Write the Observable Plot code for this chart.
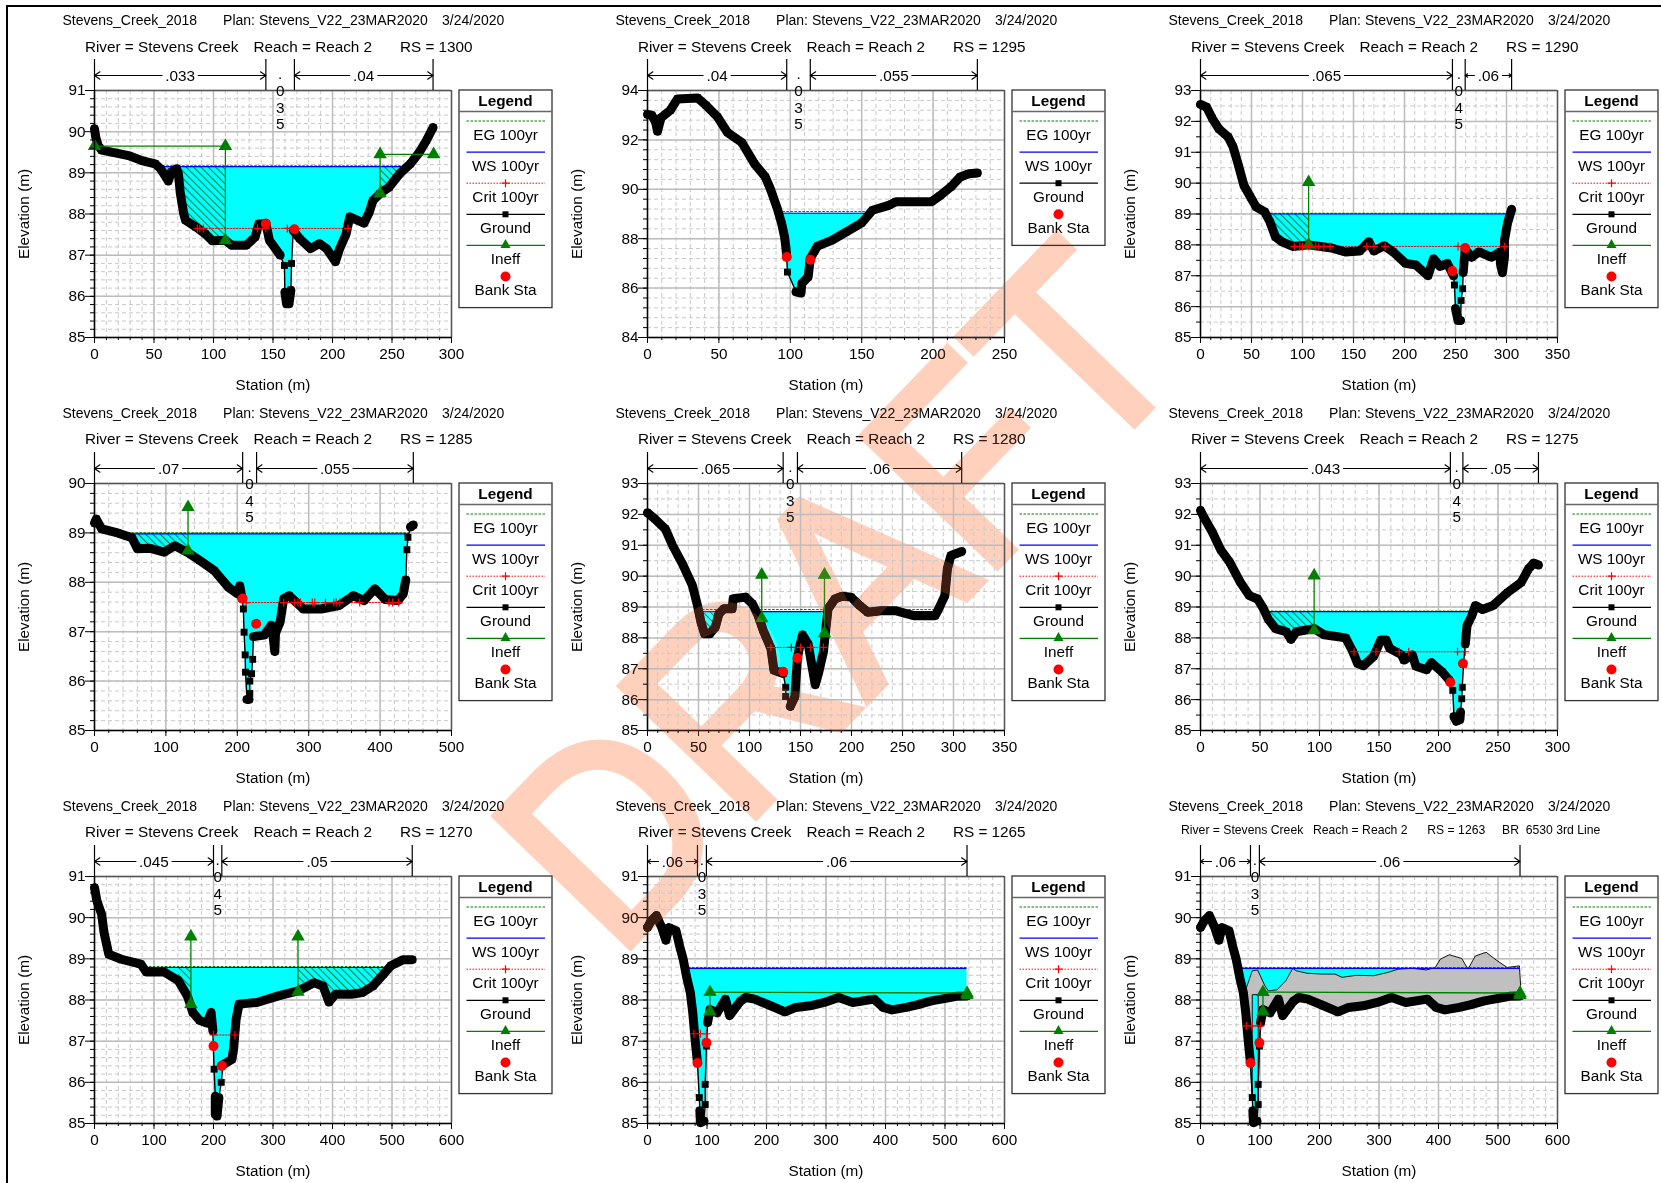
<!DOCTYPE html>
<html><head><meta charset="utf-8">
<script src="https://cdn.jsdelivr.net/npm/d3@7"></script>
<script src="https://cdn.jsdelivr.net/npm/@observablehq/plot@0.6"></script>
<style>
html,body{margin:0;padding:0;background:#fff;width:1661px;height:1183px;overflow:hidden}
#page{position:relative;width:1661px;height:1183px}
.panel{position:absolute}
.layer{position:absolute;left:0;top:0;pointer-events:none}
#edge{position:absolute;left:6px;top:5px;right:0;bottom:0;border-left:2.5px solid #000;border-top:2.5px solid #000}
</style></head>
<body>
<div id="page">
<svg width="0" height="0" style="position:absolute"><defs>
<pattern id="hatch" width="5.2" height="5.2" patternUnits="userSpaceOnUse" patternTransform="rotate(-45)">
<rect width="5.2" height="5.2" fill="#00ffff"></rect><rect width="1" height="5.2" fill="#007a3a"></rect>
</pattern>
<text id="draftText" font-family="'Liberation Sans',Arial,sans-serif" font-size="272" stroke-width="8" stroke-linejoin="miter">DRAFT</text>
</defs></svg>
<svg class="layer" width="1661" height="1183"><use href="#draftText" fill="#ffd0bc" stroke="#ffd0bc" transform="translate(616,961) rotate(-46) scale(.92,1)"></use></svg>
<div id="edge"></div>
<div id="charts"></div>
<svg class="layer" width="1661" height="1183" style="mix-blend-mode:lighten"><use href="#draftText" fill="#3c1c10" stroke="#3c1c10" transform="translate(616,961) rotate(-46) scale(.92,1)"></use></svg>
</div>
<script>
const project = "Stevens_Creek_2018", plan = "Plan: Stevens_V22_23MAR2020", planDate = "3/24/2020";

const ground1300 = [[0,90.07],[1,89.87],[3,89.67],[6,89.55],[16.5,89.49],[28.5,89.42],[40.5,89.29],[51,89.22],[55.5,89.1],[60,88.9],[62,88.8],[64.5,89.02],[69,89.1],[70.5,88.98],[72,88.53],[75,88],[76.5,87.85],[85.5,87.68],[93,87.52],[99,87.35],[110,87.36],[115.5,87.24],[127.5,87.24],[135,87.44],[138,87.76],[144,87.77],[147,87.36],[156,87],[159.6,86.75],[160,86.1],[161.4,85.82],[163.5,85.82],[165,86.15],[165.6,86.8],[167,87.6],[172.5,87.4],[181.5,87.16],[189,87.28],[195,87.16],[202.5,86.84],[205.5,87.12],[211.5,87.52],[214.5,87.93],[226.5,87.78],[231,88.05],[234,88.33],[240,88.5],[247.5,88.65],[256.5,88.98],[265.5,89.22],[273,89.5],[279,89.79],[284.5,90.1]];
const ground1295 = [[0,93.03],[3,93],[5.8,92.7],[7,92.35],[9.5,92.9],[16,93.2],[21,93.66],[35,93.7],[41,93.4],[49,92.93],[56,92.3],[66,91.9],[75,91.03],[82.5,90.5],[86,90.02],[88,89.7],[91,89.2],[94,88.6],[96,88.07],[97,87.6],[97.5,87.26],[98,86.65],[104,85.85],[107.5,85.8],[108,86.18],[112.5,86.45],[114,87.2],[119,87.7],[129,87.93],[139,88.27],[150,88.64],[157.5,89.15],[169,89.35],[174,89.5],[189,89.5],[199,89.5],[205,89.75],[212.5,90.1],[219,90.5],[225,90.63],[231,90.66]];
const ground1290 = [[0,92.55],[6,92.46],[11.5,92.1],[18,91.76],[27,91.5],[32,91.17],[37,90.6],[42.5,89.93],[49,89.55],[54.5,89.23],[63,89.07],[68,88.75],[73.5,88.26],[80,88.1],[90.5,87.95],[106,88],[128.5,87.9],[142,87.77],[156,87.8],[165,88.1],[170,87.8],[180,87.97],[189,87.77],[201,87.4],[211,87.35],[223,87],[228.5,87.55],[235,87.3],[242,87.4],[248,87],[249,86.7],[250,85.94],[252.5,85.55],[255,85.55],[255.5,86.2],[257,86.58],[257.5,87.1],[259.5,87.85],[266,87.6],[273,87.77],[285,87.6],[294,87.77],[294,87.4],[296,87.1],[298,87.6],[298,88.15],[301,88.7],[305,89.15]];
const ground1285 = [[0,89.2],[2.5,89.28],[10,89.08],[32.5,89],[52.5,88.9],[60,88.68],[77.5,88.69],[97.5,88.61],[112.5,88.74],[130,88.61],[147.5,88.44],[167.5,88.24],[187.5,87.9],[200,87.77],[203.5,87.93],[206.5,87.67],[208.5,87.46],[209.5,86.99],[211,86.53],[211.5,86.18],[213.5,85.63],[216.5,85.63],[217.5,85.75],[217.5,86],[220,86.15],[221.5,86.44],[222.5,86.9],[237.5,86.93],[247.5,87.13],[251,86.8],[252.5,86.6],[253.5,86.97],[260,87.2],[265,87.67],[272.5,87.73],[292.5,87.46],[317.5,87.46],[342.5,87.53],[362.5,87.73],[377.5,87.63],[392.5,87.87],[407.5,87.65],[425,87.63],[432.5,87.77],[436,88.05],[437.5,88.66],[439,88.91],[442.5,89.12],[446.5,89.16]];
const ground1280 = [[0,92.05],[7,91.86],[17.5,91.53],[24.5,91],[35,90.35],[44,89.7],[49,89.05],[52.5,88.5],[56,88.13],[61,88.13],[66.5,88.35],[70,88.78],[75,88.94],[83,88.94],[84,89.27],[96,89.32],[103,89.1],[108.5,88.72],[113.5,88.24],[121,87.66],[124,86.95],[133,86.85],[135.5,86.4],[135.5,86.1],[140,85.78],[144.5,86.1],[145,86.35],[147,87.35],[149.5,87.77],[152,88.1],[157.5,87.8],[161,87.13],[164.5,86.48],[168,86.9],[172.5,87.55],[175,88.35],[177,88.94],[184,89.27],[191,89.35],[199.5,89.32],[208,89.05],[216,88.83],[229,88.88],[243,88.88],[261,88.72],[282,88.72],[285.5,88.94],[291.5,89.37],[294,90.24],[297.5,90.67],[308,90.8]];
const ground1275 = [[0,92.13],[2.5,91.93],[10,91.42],[17,90.85],[24.5,90.45],[33.5,89.8],[41,89.37],[48,89.26],[53,88.94],[57,88.6],[63,88.3],[72,88.2],[76,87.95],[80.5,88.2],[95.5,88.3],[104,88.1],[122,88],[128,87.55],[132,87.17],[137,87.1],[145.5,87.4],[151.5,87.93],[156,87.93],[159,87.66],[169,87.45],[171,87.28],[178,87.45],[181,87.08],[190,86.97],[194,87.2],[203,86.9],[209,86.63],[212,86.3],[213,85.45],[215,85.3],[218,85.35],[218.5,85.6],[219.5,86.03],[220,86.4],[221,87.15],[222.5,87.8],[224,88.4],[228,88.72],[231,89.05],[237,88.92],[246,89.05],[258,89.47],[269.5,89.8],[275.5,90.23],[280,90.42],[284,90.36]];
const ground1270 = [[0,90.73],[4,90.41],[12,90.08],[16,89.64],[24,89.11],[45,88.99],[78,88.87],[87,88.68],[117,88.68],[141,88.47],[156,88.1],[162,87.85],[165,87.7],[177,87.5],[189,87.44],[196,87.7],[199,87.25],[201,86.32],[203,85.66],[203,85.22],[206,85.18],[209,85.63],[213,86],[216,86.43],[231,86.56],[234,86.84],[236,87.2],[238,87.53],[243,87.9],[273,87.94],[309,88.1],[342,88.22],[369,88.42],[384,88.34],[394,87.95],[405,88.14],[432,88.14],[450,88.18],[468,88.34],[486,88.63],[498,88.83],[519,88.98],[534,88.98]];
const ground1265 = [[0,89.76],[6,89.92],[15,90.05],[24,89.76],[31,89.45],[36,89.76],[48,89.68],[54,89.31],[60,88.99],[66,88.54],[72,88.18],[76,87.7],[80,87.04],[84,86.47],[87,85.63],[88,85.31],[89,85.02],[95,85.06],[97,85.46],[97,85.95],[99,86.88],[101,87.45],[105,87.77],[117,87.69],[131,88.02],[138,87.62],[156,87.97],[165,88.06],[180,88.02],[207,87.86],[231,87.71],[249,87.82],[273,87.86],[297,87.94],[321,88.06],[345,87.94],[381,88.02],[396,87.82],[411,87.76],[435,87.82],[453,87.88],[477,87.98],[501,88.04],[519,88.09],[537,88.1]];
const deckTop1263 = [[76,88.25],[87,88.71],[96,88.73],[108,88.35],[114,88.22],[129,88.25],[143.5,88.47],[155,88.77],[161,88.71],[179,88.65],[203,88.63],[226,88.63],[238,88.55],[262,88.6],[291,88.59],[315,88.67],[332.5,88.75],[356,88.77],[380,88.73],[394.5,88.79],[403,88.99],[418,89.1],[439,89.01],[449.5,88.75],[462,89.07],[480,89.16],[498,88.96],[515.5,88.79],[536,88.83],[538,88.35],[538,88.09]];
const deckOpening1263 = [[97,88.13],[87,88.13]];

const panels = [
 {rs:"1300", xMax:300, xMajor:50, xMinor:10, yMin:85, yMax:91, yMajor:1, yMinor:.2, ground:ground1300, thin:[[159.5,159.7],[165.5,165.7]], ws:89.15, wsFrom:[[54,263]], eg:89.17, egFrom:[[54,263]], crit:87.65, critX:[86.5,88.5,91.5,137,144,162,213], banks:[[144,87.77],[168,87.63]], ineff:[[[0,89.65],[110,89.65],[110,87.36]],[[285,89.45],[240,89.45],[240,88.5]]], hatch:[[70.5,110],[240,265]], reach:[0,144,168,284.5], n:[".033",".035",".04"]},
 {rs:"1295", xMax:250, xMajor:50, xMinor:10, yMin:84, yMax:94, yMajor:2, yMinor:.4, ground:ground1295, thin:[[97.7,100]], ws:89.03, wsFrom:[[92,157]], eg:89.1, egFrom:[[92,160]], crit:null, critX:[], banks:[[97.5,87.26],[114,87.15]], ineff:[], hatch:[], reach:[0,97.5,114,231], n:[".04",".035",".055"]},
 {rs:"1290", xMax:350, xMajor:50, xMinor:10, yMin:85, yMax:93, yMajor:1, yMinor:.5, ground:ground1290, thin:[[249,249.5],[255.5,257.2]], ws:89, wsFrom:[[65,300]], eg:89.02, egFrom:[[65,300]], crit:87.95, critX:[92,97.5,100,106,113,116,121,127,163,170,181,252.5,298], banks:[[247,87.15],[259.5,87.9]], ineff:[[[106,90.03],[106,88]]], hatch:[[66,106]], reach:[0,247,259.5,305], n:[".065",".045",".06"]},
 {rs:"1285", xMax:500, xMajor:100, xMinor:20, yMin:85, yMax:90, yMajor:1, yMinor:.2, ground:ground1285, thin:[[208,211.6],[217.4,222.4],[436.5,439]], ws:88.98, wsFrom:[[30,440]], eg:89, egFrom:[[30,440]], crit:87.59, critX:[212.5,265,280,285,288.5,305,308.5,323.5,335,338.5,343.5,371.5,412.5,417.5,426], banks:[[207.5,87.67],[226.5,87.16]], ineff:[[[131,89.52],[131,88.64]]], hatch:[[52.5,130]], reach:[0,207.5,227,446.5], n:[".07",".045",".055"]},
 {rs:"1280", xMax:350, xMajor:50, xMinor:10, yMin:85, yMax:93, yMajor:1, yMinor:.5, ground:ground1280, thin:[[135.4,135.6]], ws:88.85, wsFrom:[[50,74],[107,176],[217,287]], eg:88.92, egFrom:[[50,74],[107,176],[217,287]], crit:87.69, critX:[121,141,150,160,172.5], banks:[[133,86.9],[147,87.35]], ineff:[[[112,90.04],[112,88.63]],[[173.5,90.04],[173.5,88.15]]], hatch:[[49,75]], reach:[0,133,147,308], n:[".065",".035",".06"]},
 {rs:"1275", xMax:300, xMajor:50, xMinor:10, yMin:85, yMax:93, yMajor:1, yMinor:.5, ground:ground1275, thin:[[212,212.5],[219.5,222.4]], ws:88.85, wsFrom:[[53,229]], eg:88.87, egFrom:[[53,229]], crit:87.55, critX:[129,147.5,167,175,216,222.5], banks:[[210,86.56],[220.5,87.17]], ineff:[[[95.5,90.02],[95.5,88.24]]], hatch:[[57,95.5]], reach:[0,210,220.5,284], n:[".043",".045",".05"]},
 {rs:"1270", xMax:600, xMajor:100, xMinor:20, yMin:85, yMax:91, yMajor:1, yMinor:.2, ground:ground1270, thin:[[199.5,202.5],[210,215]], ws:88.79, wsFrom:[[72,497]], eg:88.81, egFrom:[[72,497]], crit:87.15, critX:[200,236], banks:[[200,86.88],[214,86.4]], ineff:[[[162,89.54],[162,87.9]],[[342,89.54],[342,88.2]]], hatch:[[130,162],[342,498]], reach:[0,200,214,534], n:[".045",".045",".05"]},
 {rs:"1265", xMax:600, xMajor:100, xMinor:20, yMin:85, yMax:91, yMajor:1, yMinor:.2, ground:ground1265, thin:[[85,87],[97,100]], ws:88.77, wsFrom:[[69,537]], eg:88.79, egFrom:[[69,537]], crit:87.18, critX:[78,89,99], banks:[[84,86.47],[99,86.96]], ineff:[[[105,87.72],[105,88.19],[537,88.17],[537,88.12]]], hatch:[], reach:[0,84,99,537], n:[".06",".035",".06"]},
 {rs:"1263", xMax:600, xMajor:100, xMinor:20, yMin:85, yMax:91, yMajor:1, yMinor:.2, ground:ground1265, thin:[[85,87],[97,100]], ws:88.77, wsFrom:[[69,537]], eg:88.79, egFrom:[[69,537]], crit:87.37, critX:[77,87,101], banks:[[84,86.47],[99,86.96]], ineff:[[[105,87.72],[105,88.19],[537,88.17],[537,88.12]]], hatch:[], reach:[0,84,99,537], n:[".06",".035",".06"], deck:true, bridge:"BR  6530 3rd Line"}
];

const frameX = [94, 647, 1199.7], frameY = [90, 483, 876];
const frameW = 357, frameH = 247, mL = 90, mR = 105, mT = 75, mB = 60;
const FONT = "'Liberation Sans',Arial,sans-serif", BIG = 15.3;
const steps = (a, b, s) => d3.range(0, Math.round((b - a) / s) + 1).map(i => +(a + i * s).toFixed(3));

function legendMark(hasAll) {
  return (index, scales, values, dims) => {
    const left = dims.width - dims.marginRight + 8, top = dims.marginTop;
    const items = hasAll ? ["EG 100yr","WS 100yr","Crit 100yr","Ground","Ineff","Bank Sta"] : ["EG 100yr","WS 100yr","Ground","Bank Sta"];
    const g = d3.create("svg:g").attr("transform", `translate(${left},${top})`).attr("font-family", FONT).attr("font-size", BIG);
    const boxH = 31 + 31.1 * items.length;
    g.append("rect").attr("width", 93).attr("height", boxH).attr("fill", "none").attr("stroke", "#333").attr("stroke-width", 1.3);
    g.append("line").attr("x1", 0).attr("x2", 93).attr("y1", 21.5).attr("y2", 21.5).attr("stroke", "#666").attr("stroke-width", 1.4);
    g.append("text").attr("x", 46.5).attr("y", 10.5).attr("dy", "0.35em").attr("text-anchor", "middle").attr("font-weight", "bold").text("Legend");
    items.forEach((name, i) => {
      const y = 31 + 31.1 * i;
      const ln = g.append("line").attr("x1", 7.5).attr("x2", 86).attr("y1", y).attr("y2", y);
      if (name === "EG 100yr") ln.attr("stroke", "#008000").attr("stroke-dasharray", "2.5 1.5");
      if (name === "WS 100yr") ln.attr("stroke", "#0000ff").attr("stroke-width", 1.2);
      if (name === "Crit 100yr") {
        ln.attr("stroke", "#ff0000").attr("stroke-dasharray", "1.5 1.5");
        g.append("path").attr("d", `M42.5 ${y}h8M46.5 ${y - 4}v8`).attr("stroke", "#ff0000").attr("stroke-width", 1.2);
      }
      if (name === "Ground") {
        ln.attr("stroke", "#000").attr("stroke-width", 1.2);
        g.append("rect").attr("x", 43.5).attr("y", y - 3).attr("width", 6).attr("height", 6);
      }
      if (name === "Ineff") {
        ln.attr("stroke", "#008000").attr("stroke-width", 1.2);
        g.append("path").attr("d", `M46.5 ${y - 6.5}l5 9h-10z`).attr("fill", "#008000");
      }
      if (name === "Bank Sta") {
        ln.remove();
        g.append("circle").attr("cx", 46.5).attr("cy", y).attr("r", 5).attr("fill", "#ff0000");
      }
      g.append("text").attr("x", 46.5).attr("y", y + 13.6).attr("dy", "0.35em").attr("text-anchor", "middle").text(name);
    });
    return g.node();
  };
}

function drawPanel(p, idx) {
  const col = idx % 3, row = Math.floor(idx / 3);
  const pts = p.ground.map(([x, y]) => ({x, y}));
  const isThin = d => p.thin.some(([a, b]) => d.x >= a && d.x <= b);
  const thick = pts.map(d => isThin(d) ? {x: d.x, y: null} : d);
  const wet = pts.map(d => ({x: d.x, lo: Math.min(d.y, p.ws), hi: p.ws}));
  const xPx = p.xMax / frameW;
  const links = [], labels = [];
  p.n.forEach((t, i) => {
    const a = p.reach[i], b = p.reach[i + 1], m = (a + b) / 2;
    if (i === 1) return;
    const half = (t.length * 4 + 2) * xPx;
    links.push({from: m - half, to: a}, {from: m + half, to: b});
    labels.push({x: m, t});
  });
  const ineffLines = p.ineff.flatMap((path, z) => path.map(([x, y]) => ({x, y, z})));
  const critPts = p.critX.map(x => ({x, y: p.crit}));
  const line2 = p.bridge
    ? [["River = Stevens Creek", -19.5], ["Reach = Reach 2", 112.5], ["RS = " + p.rs, 226.8], [p.bridge, 301.5]]
    : [["River = Stevens Creek", -9.6], ["Reach = Reach 2", 159], ["RS = " + p.rs, 305.4]];
  let deckPoly = null;
  if (p.deck) {
    const right = p.ground.filter(([x]) => x >= 97).reverse();
    const left = p.ground.filter(([x]) => x >= 76 && x <= 87).reverse();
    deckPoly = [...deckTop1263, ...right, ...deckOpening1263, ...left].map(([x, y]) => ({x, y}));
  }
  const line1 = [[project, -32], [plan, 128.6], [planDate, 347.5]];
  const fig = Plot.plot({
    width: mL + frameW + mR, height: mT + frameH + mB,
    marginLeft: mL, marginRight: mR, marginTop: mT, marginBottom: mB,
    style: {background: "transparent", overflow: "visible", maxWidth: "none", fontFamily: FONT, fontSize: BIG + "px", color: "#000"},
    x: {domain: [0, p.xMax], nice: false, axis: null},
    y: {domain: [p.yMin, p.yMax], nice: false, axis: null},
    marks: [
      Plot.gridX(steps(0, p.xMax, p.xMinor), {stroke: "#c9c9c9", strokeOpacity: 1, strokeDasharray: "4 3"}),
      Plot.gridY(steps(p.yMin, p.yMax, p.yMinor), {stroke: "#c9c9c9", strokeOpacity: 1, strokeDasharray: "4 3"}),
      Plot.gridX(steps(0, p.xMax, p.xMajor), {stroke: "#bcbcbc", strokeOpacity: 1, strokeWidth: 1.5}),
      Plot.gridY(steps(p.yMin, p.yMax, p.yMajor), {stroke: "#bcbcbc", strokeOpacity: 1, strokeWidth: 1.5}),
      Plot.areaY(wet, {x: "x", y1: "lo", y2: "hi", fill: "#00ffff", curve: "linear"}),
      ...p.hatch.map(([a, b]) => Plot.areaY(wet.filter(d => d.x >= a && d.x <= b), {x: "x", y1: "lo", y2: "hi", fill: "url(#hatch)", curve: "linear"})),
      ...(deckPoly ? [Plot.line(deckPoly, {x: "x", y: "y", fill: "#c0c0c0", stroke: "#000", strokeWidth: 0.9})] : []),
      ...p.egFrom.map(([a, b]) => Plot.ruleY([p.eg], {x1: a, x2: b, stroke: "#008000", strokeDasharray: "2.5 1.5", strokeWidth: 1.1})),
      ...p.wsFrom.map(([a, b]) => Plot.ruleY([p.ws], {x1: a, x2: b, stroke: "#0000ff", strokeWidth: 1.2})),
      ...(critPts.length ? [
        Plot.line(critPts, {x: "x", y: "y", stroke: "#ff0000", strokeDasharray: "1.5 1.5", strokeWidth: 1}),
      ] : []),
      Plot.line(pts, {x: "x", y: "y", stroke: "#000", strokeWidth: 1.4}),
      Plot.line(thick, {x: "x", y: "y", stroke: "#000", strokeWidth: 9, strokeLinejoin: "round", strokeLinecap: "round"}),
      Plot.dot(pts, {x: "x", y: "y", symbol: "square", r: 3.9, fill: "#000", stroke: "none"}),
      ...(ineffLines.length ? [
        Plot.line(ineffLines, {x: "x", y: "y", z: "z", stroke: "#008000", strokeWidth: 1.3}),
        Plot.dot(ineffLines, {x: "x", y: "y", symbol: "triangle", r: 5, fill: "#008000", stroke: "none"})
      ] : []),
      ...(critPts.length ? [Plot.dot(critPts, {x: "x", y: "y", symbol: "plus", r: 2.7, stroke: "#ff0000", strokeWidth: 1.2})] : []),
      Plot.dot(p.banks.map(([x, y]) => ({x, y})), {x: "x", y: "y", r: 5, fill: "#ff0000", stroke: "none"}),
      Plot.ruleX([p.xMax], {stroke: "#555", strokeWidth: 1.4}),
      Plot.ruleY([p.yMax], {stroke: "#555", strokeWidth: 1.4}),
      Plot.ruleX([0], {stroke: "#000", strokeWidth: 1.5}),
      Plot.ruleY([p.yMin], {stroke: "#000", strokeWidth: 1.5}),
      Plot.ruleX(steps(0, p.xMax, p.xMinor), {stroke: "#000", insetTop: frameH, insetBottom: -3}),
      Plot.ruleY(steps(p.yMin, p.yMax, p.yMinor), {stroke: "#000", insetLeft: -4, insetRight: frameW}),
      Plot.axisX(steps(0, p.xMax, p.xMajor), {tickSize: 6, tickPadding: 5, label: null, fontSize: BIG, stroke: "#000", fill: "#000"}),
      Plot.axisY(steps(p.yMin, p.yMax, p.yMajor), {tickSize: 9, tickPadding: 0, label: null, fontSize: BIG, stroke: "#000", fill: "#000"}),
      Plot.text(["Station (m)"], {frameAnchor: "bottom", dy: 47.5, lineAnchor: "middle", fontSize: BIG, fill: "#000"}),
      Plot.text(["Elevation (m)"], {frameAnchor: "left", dx: -70, rotate: -90, textAnchor: "middle", lineAnchor: "middle", fontSize: BIG, fill: "#000"}),
      ...line1.map(([t, dx]) => Plot.text([t], {frameAnchor: "top-left", dx, dy: -70, textAnchor: "start", lineAnchor: "middle", fontSize: 14, fill: "#000"})),
      ...line2.map(([t, dx]) => Plot.text([t], {frameAnchor: "top-left", dx, dy: p.bridge ? -46 : (row === 0 ? -43.3 : -44.3), textAnchor: "start", lineAnchor: "middle", fontSize: p.bridge ? 12.2 : BIG, fill: "#000"})),
      Plot.ruleX(p.reach, {stroke: "#000", strokeWidth: 1.2, insetTop: -31, insetBottom: frameH}),
      Plot.arrow(links, {x1: "from", x2: "to", y1: () => p.yMax, y2: () => p.yMax, dy: -15, stroke: "#000", strokeWidth: 1.1, headLength: 9, headAngle: 70, insetStart: 0, insetEnd: 0, bend: 0}),
      Plot.text(labels, {x: "x", text: "t", frameAnchor: "top", dy: -14, lineAnchor: "middle", fontSize: BIG, fill: "#000"}),
      Plot.text([{x: (p.reach[1] + p.reach[2]) / 2}], {x: "x", text: () => p.n[1].split("").join("\n"), frameAnchor: "top", dy: -23, lineAnchor: "top", lineHeight: 1.09, fontSize: BIG, fill: "#000"}),
      legendMark(p.critX.length > 0 || p.ineff.length > 0)
    ]
  });
  const holder = document.createElement("div");
  holder.className = "panel";
  holder.style.left = (frameX[col] - mL) + "px";
  holder.style.top = (frameY[row] - mT) + "px";
  holder.appendChild(fig);
  document.getElementById("charts").appendChild(holder);
}
panels.forEach(drawPanel);
</script>
</body></html>
